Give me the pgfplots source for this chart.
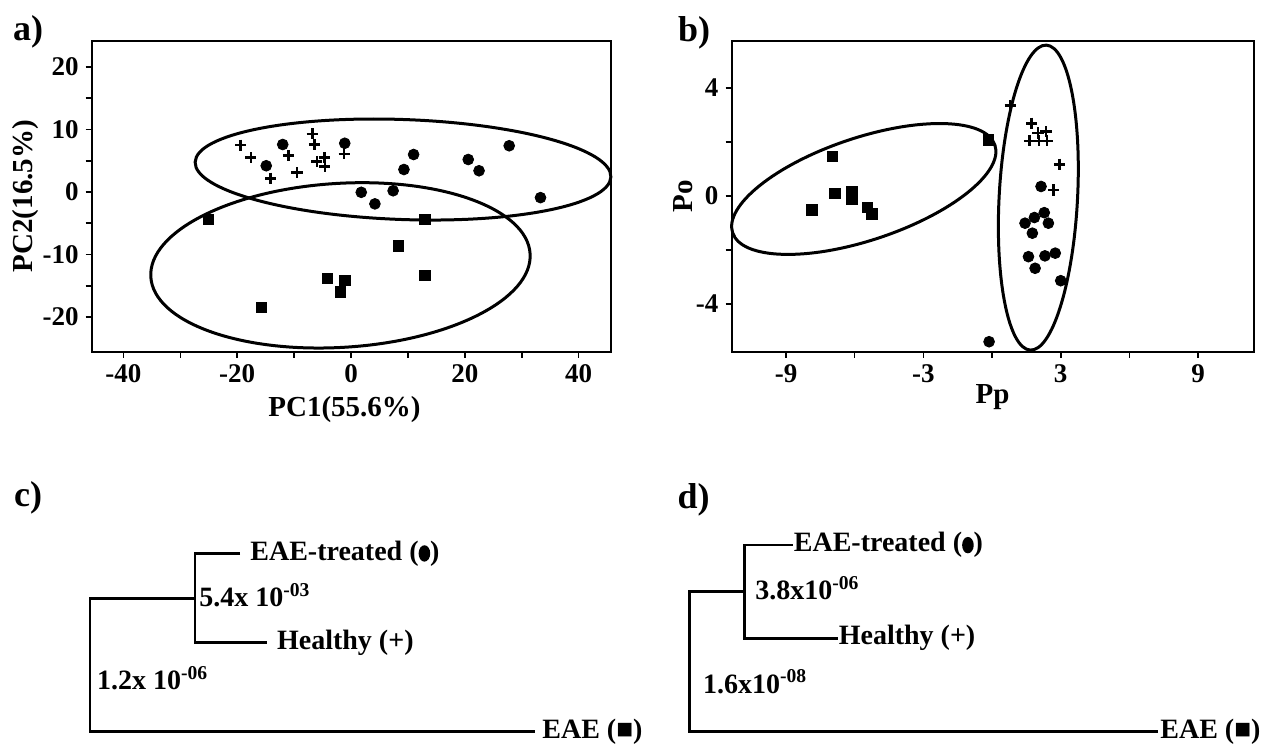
\documentclass[border=0pt]{standalone}
\usepackage{fontspec}
\setmainfont{Liberation Serif}
\usepackage{graphicx}
\usepackage{pgfplots}
\pgfplotsset{compat=1.18}
\pgfplotsset{
  pcaaxis/.style={
    scale only axis, height=155.5pt,
    axis line style={line width=1pt},
    tick align=outside, tick pos=left,
    major tick length=3pt, minor tick length=3pt,
    every tick/.style={black, line width=0.8pt},
    /pgf/number format/assume math mode=true,
    ticklabel style={font=\bfseries\fontsize{13.5}{15}\selectfont},
    label style={font=\bfseries\fontsize{14.5}{16}\selectfont},
    clip=false,
  },
  sq/.style={only marks, mark=square*, mark size=2.6pt, black},
  ci/.style={only marks, mark=*, mark size=2.7pt, black},
  pl/.style={only marks, mark=+, mark size=2.8pt, black, mark options={line width=1.3pt}},
  tree/.style={black, line width=1.4pt, no markers, line join=miter},
}
\newcommand{\tfont}{\bfseries\fontsize{14}{16}\selectfont}
\newcommand{\pfont}{\bfseries\fontsize{18}{20}\selectfont}
\newsavebox{\dotbox}
\newcommand{\bdot}{\raisebox{-0.8pt}{\usebox{\dotbox}}}
\begin{document}%
\sbox{\dotbox}{\tikz\fill[black] (0,0) ellipse [x radius=2.9pt, y radius=4.1pt];}%
\begin{tikzpicture}
\path[use as bounding box] (0,0) rectangle (630.5pt,372pt);

% ---------------- panel a ----------------
\begin{axis}[pcaaxis, width=259.5pt,
  at={(45.85pt,196.15pt)}, anchor=south west,
  xmin=-45.57, xmax=45.64, ymin=-25.55, ymax=24.21,
  xtick={-40,-20,0,20,40}, minor xtick={-30,-10,10,30},
  ytick={-20,-10,0,10,20}, minor ytick={-15,-5,5,15},
  xlabel={PC1(55.6\%)}, ylabel={PC2(16.5\%)},
  xlabel style={at={(axis description cs:0.487,-0.187)}, anchor=center},
  ylabel style={at={(axis description cs:-0.128,0.5)}, anchor=center},
]
\addplot[pl] coordinates {(-19.4,7.5) (-17.6,5.5) (-14.1,2.2) (-11.0,5.8) (-9.5,3.1)
  (-6.8,9.3) (-6.4,7.6) (-6.0,4.9) (-4.7,5.5) (-4.6,4.1) (-1.2,6.1)};
\addplot[ci] coordinates {(-14.9,4.2) (-12.0,7.6) (-1.1,7.8) (1.8,-0.05) (4.2,-1.9)
  (7.4,0.2) (9.3,3.6) (11.0,6.0) (20.6,5.2) (22.5,3.4) (27.8,7.4) (33.3,-0.9)};
\addplot[sq] coordinates {(-25.1,-4.4) (13.0,-4.4) (8.3,-8.6) (13.0,-13.3)
  (-4.1,-13.8) (-1.05,-14.1) (-1.9,-16.0) (-15.7,-18.5)};
\coordinate (ea1) at (axis cs:9.14,3.6);
\coordinate (ea2) at (axis cs:-1.85,-11.73);
\end{axis}
\draw[line width=1.5pt, rotate around={-2.05:(ea1)}] (ea1) ellipse [x radius=104pt, y radius=25pt];
\draw[line width=1.5pt, rotate around={3.5:(ea2)}] (ea2) ellipse [x radius=95pt, y radius=41pt];

% ---------------- panel b ----------------
\begin{axis}[pcaaxis, width=261pt,
  at={(365.75pt,196.15pt)}, anchor=south west,
  xmin=-11.38, xmax=11.42, ymin=-5.77, ymax=5.75,
  xtick={-9,-3,3,9}, minor xtick={-6,0,6},
  ytick={-4,0,4}, minor ytick={-2,2},
  xlabel={Pp}, ylabel={Po},
  xlabel style={at={(axis description cs:0.5,-0.145)}, anchor=center},
  ylabel style={at={(axis description cs:-0.093,0.5)}, anchor=center},
]
\addplot[sq] coordinates {(-6.97,1.46) (-6.86,0.10) (-6.13,0.16) (-6.13,-0.12)
  (-7.87,-0.52) (-5.45,-0.42) (-5.25,-0.67) (-0.16,2.07)};
\addplot[pl] coordinates {(0.79,3.34) (1.73,2.69) (1.63,2.04) (2.01,2.33) (2.36,2.38)
  (2.05,2.04) (2.40,2.04) (2.94,1.17) (2.68,0.22)};
\addplot[ci] coordinates {(2.14,0.35) (2.28,-0.62) (1.85,-0.80) (1.44,-1.01) (2.46,-1.01)
  (1.76,-1.38) (1.59,-2.25) (2.31,-2.22) (2.76,-2.12) (1.88,-2.68) (3.0,-3.14) (-0.13,-5.40)};
\coordinate (eb1) at (axis cs:-5.6,0.26);
\coordinate (eb2) at (axis cs:2.02,-0.06);
\end{axis}
\draw[line width=1.5pt, rotate around={18.5:(eb1)}] (eb1) ellipse [x radius=69.15pt, y radius=25.6pt];
\draw[line width=1.5pt, rotate around={86.98:(eb2)}] (eb2) ellipse [x radius=76.35pt, y radius=19.6pt];

% ---------------- panels c and d (dendrograms) ----------------
\begin{axis}[at={(0pt,0pt)}, anchor=south west, scale only axis,
  width=630.5pt, height=142pt, xmin=0, xmax=1261, ymin=460, ymax=744,
  y dir=reverse, hide axis, clip=false]
% c
\addplot[tree] coordinates {(240,553.3) (195,553.3) (195,642.7) (266.7,642.7)};
\addplot[tree] coordinates {(195,598.3) (90,598.3) (90,731.7) (535,731.7)};
% d
\addplot[tree] coordinates {(792.8,545) (744.4,545) (744.4,638.3) (837.6,638.3)};
\addplot[tree] coordinates {(744.4,591.7) (689.6,591.7) (689.6,731.7) (1158,731.7)};
\node[anchor=west, inner sep=0pt, font=\tfont] at (axis cs:250,553.3) {EAE-treated (\bdot)};
\node[anchor=west, inner sep=0pt, font=\tfont] at (axis cs:276.7,642.7) {Healthy (+)};
\node[anchor=west, inner sep=0pt, font=\tfont] at (axis cs:199,595) {5.4x 10\textsuperscript{-03}};
\node[anchor=west, inner sep=0pt, font=\tfont] at (axis cs:96.7,678) {1.2x 10\textsuperscript{-06}};
\node[anchor=west, inner sep=0pt, font=\tfont] at (axis cs:542,731.7) {EAE (■)};
\node[anchor=west, inner sep=0pt, font=\tfont] at (axis cs:793.5,545) {EAE-treated (\bdot)};
\node[anchor=west, inner sep=0pt, font=\tfont] at (axis cs:838.4,638.3) {Healthy (+)};
\node[anchor=west, inner sep=0pt, font=\tfont] at (axis cs:755,588) {3.8x10\textsuperscript{-06}};
\node[anchor=west, inner sep=0pt, font=\tfont] at (axis cs:702.7,681.7) {1.6x10\textsuperscript{-08}};
\node[anchor=west, inner sep=0pt, font=\tfont] at (axis cs:1160,731.7) {EAE (■)};
\end{axis}

% panel letters
\node[font=\pfont] at (14pt,356pt) {a)};
\node[font=\pfont] at (347pt,355.5pt) {b)};
\node[font=\pfont] at (14pt,123pt) {c)};
\node[font=\pfont] at (346.75pt,122pt) {d)};
\end{tikzpicture}%
\end{document}
